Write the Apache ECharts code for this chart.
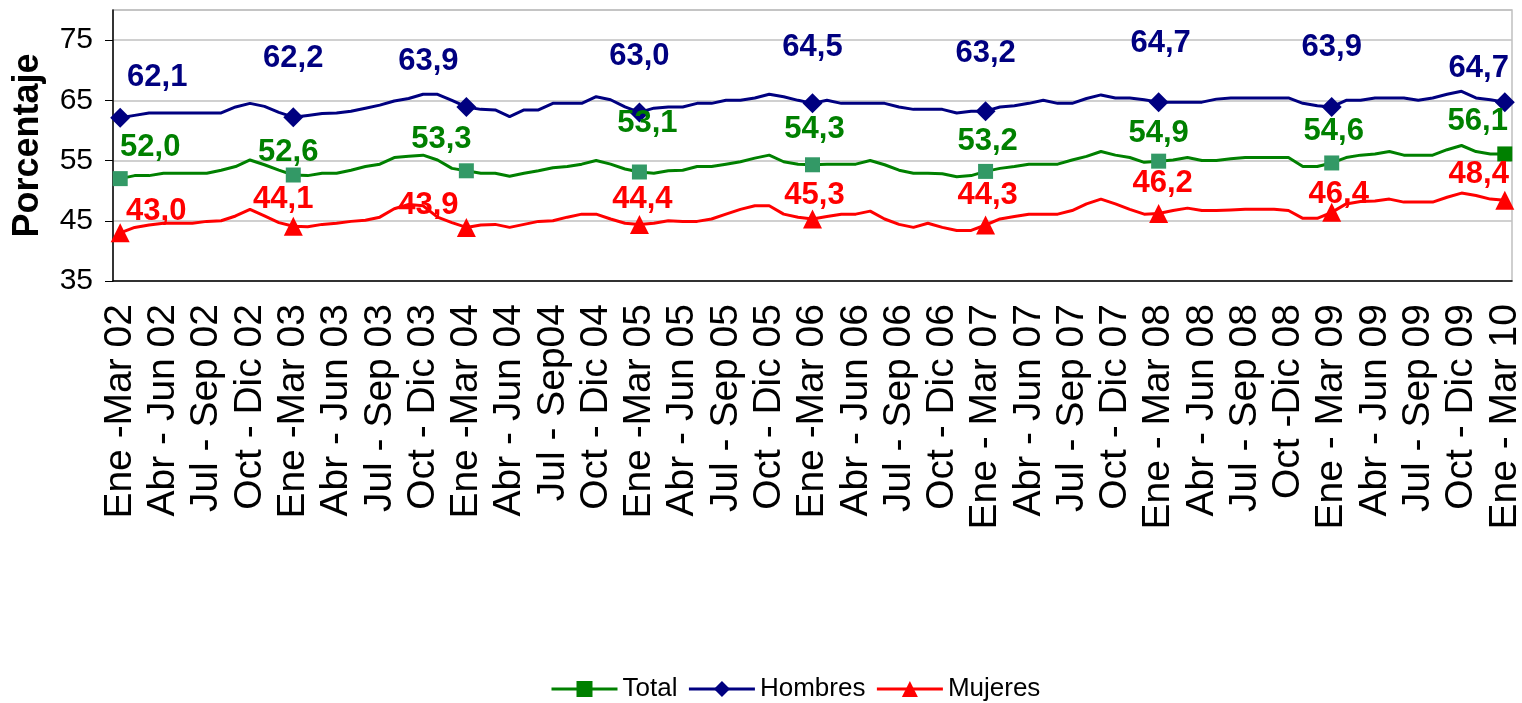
<!DOCTYPE html>
<html>
<head>
<meta charset="utf-8">
<title>Porcentaje</title>
<script src="https://cdn.jsdelivr.net/npm/echarts@6/dist/echarts.min.js"></script>
<style>
  html, body { margin: 0; padding: 0; background: #fff; }
  #chart { width: 1522px; height: 703px; }
</style>
</head>
<body>
<div id="chart"></div>
<script>
const quarterLabels = [
  'Ene -Mar 02', 'Abr - Jun 02', 'Jul - Sep 02', 'Oct - Dic 02',
  'Ene -Mar 03', 'Abr - Jun 03', 'Jul - Sep 03', 'Oct - Dic 03',
  'Ene -Mar 04', 'Abr - Jun 04', 'Jul - Sep04', 'Oct - Dic 04',
  'Ene -Mar 05', 'Abr - Jun 05', 'Jul - Sep 05', 'Oct - Dic 05',
  'Ene -Mar 06', 'Abr - Jun 06', 'Jul - Sep 06', 'Oct - Dic 06',
  'Ene - Mar 07', 'Abr - Jun 07', 'Jul - Sep 07', 'Oct - Dic 07',
  'Ene - Mar 08', 'Abr - Jun 08', 'Jul - Sep 08', 'Oct -Dic 08',
  'Ene - Mar 09', 'Abr - Jun 09', 'Jul - Sep 09', 'Oct - Dic 09',
  'Ene - Mar 10'
]
const months = ['Ene', 'Feb', 'Mar', 'Abr', 'May', 'Jun', 'Jul', 'Ago', 'Sep', 'Oct', 'Nov', 'Dic']

// trimestres moviles, Ene-Mar 02 ... Ene-Mar 10
const total = [
  52.0, 52.5, 52.5, 52.9, 52.9, 52.9, 52.9, 53.4, 54.0, 55.1, 54.3, 53.4,
  52.6, 52.5, 52.9, 52.9, 53.4, 54.0, 54.4, 55.5, 55.7, 55.9, 55.1, 53.7,
  53.3, 52.9, 52.9, 52.4, 52.9, 53.3, 53.8, 54.0, 54.4, 55.0, 54.4, 53.6,
  53.1, 52.9, 53.3, 53.4, 54.0, 54.0, 54.4, 54.8, 55.4, 55.9, 54.8, 54.4,
  54.3, 54.4, 54.4, 54.4, 55.0, 54.3, 53.4, 52.9, 52.9, 52.8, 52.3, 52.5,
  53.2, 53.7, 54.0, 54.4, 54.4, 54.4, 55.1, 55.7, 56.5, 55.9, 55.5, 54.7,
  54.9, 55.1, 55.5, 55.0, 55.0, 55.3, 55.5, 55.5, 55.5, 55.5, 54.0, 54.0,
  54.6, 55.5, 55.9, 56.1, 56.5, 55.9, 55.9, 55.9, 56.8, 57.5, 56.5, 56.1,
  56.1
]
const hombres = [
  62.1, 62.5, 62.9, 62.9, 62.9, 62.9, 62.9, 62.9, 63.9, 64.5, 64.0, 63.0,
  62.2, 62.5, 62.8, 62.9, 63.2, 63.7, 64.2, 64.9, 65.3, 66.0, 66.0, 65.0,
  63.9, 63.5, 63.4, 62.3, 63.4, 63.4, 64.5, 64.5, 64.5, 65.6, 65.1, 63.9,
  63.0, 63.7, 63.9, 63.9, 64.5, 64.5, 65.0, 65.0, 65.4, 66.0, 65.6, 65.0,
  64.5, 65.0, 64.5, 64.5, 64.5, 64.5, 63.9, 63.5, 63.5, 63.5, 62.9, 63.2,
  63.2, 63.9, 64.1, 64.5, 65.0, 64.5, 64.5, 65.3, 65.9, 65.4, 65.4, 65.1,
  64.7, 64.7, 64.7, 64.7, 65.2, 65.4, 65.4, 65.4, 65.4, 65.4, 64.5, 64.1,
  63.9, 65.0, 65.0, 65.4, 65.4, 65.4, 65.0, 65.4, 66.0, 66.5, 65.4, 65.1,
  64.7
]
const mujeres = [
  43.0, 43.9, 44.3, 44.6, 44.6, 44.6, 44.9, 45.0, 45.8, 46.9, 45.8, 44.7,
  44.1, 44.0, 44.4, 44.6, 44.9, 45.1, 45.6, 47.0, 47.7, 47.5, 45.6, 44.7,
  43.9, 44.3, 44.4, 43.9, 44.4, 44.9, 45.0, 45.6, 46.1, 46.1, 45.3, 44.6,
  44.4, 44.6, 45.0, 44.9, 44.9, 45.3, 46.1, 46.9, 47.5, 47.5, 46.1, 45.6,
  45.3, 45.7, 46.1, 46.1, 46.6, 45.3, 44.4, 43.9, 44.6, 43.9, 43.4, 43.4,
  44.3, 45.3, 45.7, 46.1, 46.1, 46.1, 46.7, 47.8, 48.6, 47.8, 46.9, 46.1,
  46.2, 46.7, 47.1, 46.7, 46.7, 46.8, 46.9, 46.9, 46.9, 46.7, 45.4, 45.4,
  46.4, 47.8, 48.2, 48.3, 48.6, 48.1, 48.1, 48.1, 48.9, 49.6, 49.2, 48.6,
  48.4
]

// un punto por mes; solo los trimestres llevan rotulo
const categories = []
for (let i = 0; i < total.length; i++) {
  if (i % 3 === 0) {
    categories.push(quarterLabels[i / 3])
  } else {
    const yy = String(2 + Math.floor(i / 12)).padStart(2, '0')
    categories.push(months[i % 12] + '-' + months[(i + 2) % 12] + ' ' + yy)
  }
}

// posicion de las etiquetas respecto al marcador (Ene-Mar de cada ano)
const totalOffsets = [[30, -31], [-5, -23], [-25, -31], [8, -49], [2, -35], [2, -30], [0, -28], [2, -32], [-27, -32]]
const hombresOffsets = [[37, -40], [0, -59], [-38, -46], [0, -56], [0, -56], [0, -58], [2, -59], [0, -60], [-26, -34]]
const mujeresOffsets = [[36, -21], [-10, -27], [-38, -22], [3, -25], [2, -24], [2, -30], [4, -30], [7, -18], [-26, -26]]

const font = "'Liberation Sans', Arial, sans-serif"

const fmt = v => v.toFixed(1).replace('.', ',')

const buildData = (values, offsets, markerColors) => values.map((v, i) => {
  if (i % 12 !== 0) return v
  const k = i / 12
  const item = { value: v, label: { offset: offsets[k] } }
  if (markerColors) item.itemStyle = { color: markerColors[k] }
  return item
})

const makeSeries = (name, values, color, symbol, size, offsets, markerColors) => ({
  name,
  type: 'line',
  data: buildData(values, offsets, markerColors),
  symbol,
  symbolSize: (val, params) => params.dataIndex % 12 === 0 ? size : 0,
  showAllSymbol: true,
  lineStyle: { color, width: 3 },
  itemStyle: { color },
  label: {
    show: true,
    position: 'inside',
    align: 'center',
    verticalAlign: 'middle',
    color,
    fontSize: 31,
    fontWeight: 'bold',
    fontFamily: font,
    formatter: p => p.dataIndex % 12 === 0 ? fmt(p.value) : ''
  },
  emphasis: { disabled: true }
})

const totalMarkers = ['#339966', '#339966', '#339966', '#339966', '#339966', '#339966', '#339966', '#339966', '#008000']

const chart = echarts.init(document.getElementById('chart'))
chart.setOption({
  animation: false,
  backgroundColor: '#fff',
  grid: {
    left: 113,
    right: 10,
    top: 10,
    bottom: 422,
    outerBoundsMode: 'none',
    containLabel: false,
    show: true,
    borderColor: '#c0c0c0',
    borderWidth: 1.5
  },
  legend: {
    top: 671,
    left: 545,
    itemWidth: 66,
    itemHeight: 20,
    itemGap: 10,
    lineStyle: { width: 3 },
    textStyle: { fontSize: 26, color: '#000', fontFamily: font },
    data: ['Total', 'Hombres', 'Mujeres']
  },
  xAxis: {
    type: 'category',
    data: categories,
    boundaryGap: true,
    axisLine: { lineStyle: { color: '#000', width: 1.5 } },
    axisTick: { interval: 0, length: 8, lineStyle: { color: '#000' } },
    axisLabel: { interval: 2, rotate: 90, fontSize: 39, color: '#000', margin: 23, fontFamily: font }
  },
  yAxis: {
    type: 'value',
    min: 35,
    max: 80,
    interval: 10,
    name: 'Porcentaje',
    nameLocation: 'middle',
    nameGap: 67,
    nameTextStyle: { fontSize: 36, fontWeight: 'bold', color: '#000', fontFamily: font },
    axisLine: { show: true, lineStyle: { color: '#000', width: 1.5 } },
    axisTick: { show: true, length: 8, lineStyle: { color: '#000' } },
    axisLabel: { fontSize: 30, color: '#000', margin: 20, showMaxLabel: false, fontFamily: font },
    splitLine: { lineStyle: { color: '#c0c0c0', width: 1.5 } }
  },
  series: [
    makeSeries('Total', total, '#008000', 'rect', 15, totalOffsets, totalMarkers),
    makeSeries('Hombres', hombres, '#000080', 'diamond', 20, hombresOffsets),
    makeSeries('Mujeres', mujeres, '#ff0000', 'triangle', 19, mujeresOffsets)
  ]
})
</script>
</body>
</html>
